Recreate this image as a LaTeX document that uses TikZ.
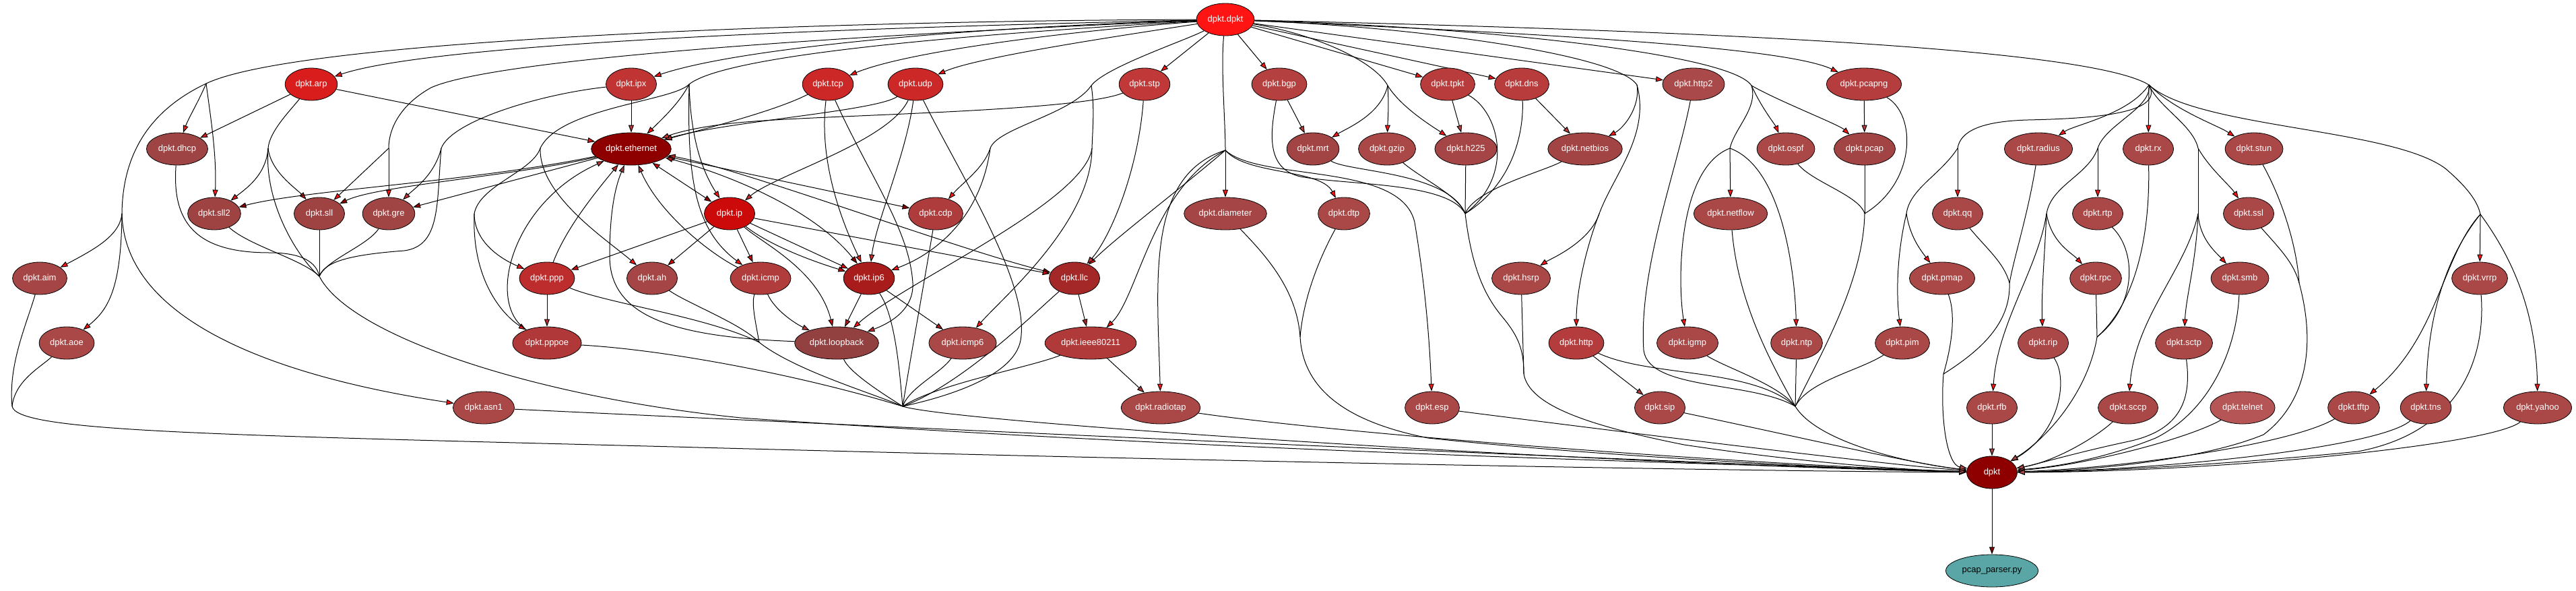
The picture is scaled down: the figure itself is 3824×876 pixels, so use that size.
\documentclass[tikz,border=0pt]{standalone}
\usepackage{fontspec}
\setmainfont{Liberation Sans}
\usetikzlibrary{shapes.geometric,arrows.meta}
\pgfdeclarelayer{bg}
\pgfsetlayers{bg,main}
\definecolor{cDD}{HTML}{FF1414}
\definecolor{cArp}{HTML}{D91C1C}
\definecolor{cIpx}{HTML}{C03434}
\definecolor{cTcp}{HTML}{CC2828}
\definecolor{cStp}{HTML}{C03838}
\definecolor{cBgp}{HTML}{B54040}
\definecolor{cTpkt}{HTML}{B83C3C}
\definecolor{cHttpb}{HTML}{AA4949}
\definecolor{cPcapng}{HTML}{B53D3D}
\definecolor{cDef}{HTML}{AA4848}
\definecolor{cDhcp}{HTML}{9E4444}
\definecolor{cEth}{HTML}{8E0000}
\definecolor{cMrt}{HTML}{A34444}
\definecolor{cSll}{HTML}{9E4242}
\definecolor{cGre}{HTML}{A04444}
\definecolor{cIp}{HTML}{CC0A0A}
\definecolor{cCdp}{HTML}{AE3C3C}
\definecolor{cPpp}{HTML}{BD2D2D}
\definecolor{cAh}{HTML}{A54545}
\definecolor{cIcmp}{HTML}{B03C3C}
\definecolor{cIpsix}{HTML}{A81C1C}
\definecolor{cLlc}{HTML}{A42828}
\definecolor{cPppoe}{HTML}{B03838}
\definecolor{cLoop}{HTML}{934040}
\definecolor{cIeee}{HTML}{B03A3A}
\definecolor{cHttp}{HTML}{B43C3C}
\definecolor{cTelnet}{HTML}{B55555}
\definecolor{cPP}{HTML}{5AA6A6}
\tikzset{
  nd/.style={ellipse, draw=black, line width=0.8pt, fill=#1, text=white, minimum width=75pt, minimum height=48pt, inner xsep=4pt, inner ysep=2pt, font=\fontsize{13}{15}\selectfont},
  ed/.style={draw=black, line width=1pt},
  ar/.style={arrows={-Triangle[length=11pt,width=8pt,fill=#1]}},
  bi/.style 2 args={arrows={Triangle[length=11pt,width=8pt,fill=#1]-Triangle[length=11pt,width=8pt,fill=#2]}},
}
\begin{document}
\begin{tikzpicture}[x=1pt,y=-1pt]
\useasboundingbox (0,0) rectangle (3824,876);
% ---------------- nodes
\node[nd=cDD] (DD) at (1819,29) {dpkt.dpkt};
\node[nd=cArp] (arp) at (462,125) {dpkt.arp};
\node[nd=cIpx] (ipx) at (937,125) {dpkt.ipx};
\node[nd=cTcp] (tcp) at (1229,125) {dpkt.tcp};
\node[nd=cTcp] (udp) at (1359,125) {dpkt.udp};
\node[nd=cStp] (stp) at (1699,125) {dpkt.stp};
\node[nd=cBgp] (bgp) at (1899,125) {dpkt.bgp};
\node[nd=cTpkt] (tpkt) at (2149,125) {dpkt.tpkt};
\node[nd=cTpkt] (dns) at (2259,125) {dpkt.dns};
\node[nd=cHttpb] (httpb) at (2514,125) {dpkt.http2};
\node[nd=cPcapng] (pcapng) at (2767,125) {dpkt.pcapng};
\node[nd=cDhcp] (dhcp) at (263,221) {dpkt.dhcp};
\node[nd=cEth] (eth) at (937,221) {dpkt.ethernet};
\node[nd=cMrt] (mrt) at (1949,221) {dpkt.mrt};
\node[nd=cDef] (gzip) at (2059,221) {dpkt.gzip};
\node[nd=cAh] (h225) at (2176,221) {dpkt.h225};
\node[nd=cMrt] (netbios) at (2353,221) {dpkt.netbios};
\node[nd=cDef] (ospf) at (2651,221) {dpkt.ospf};
\node[nd=cMrt] (pcap) at (2768,221) {dpkt.pcap};
\node[nd=cDef] (radius) at (3026,221) {dpkt.radius};
\node[nd=cDef] (rx) at (3189,221) {dpkt.rx};
\node[nd=cDef] (stun) at (3346,221) {dpkt.stun};
\node[nd=cSll] (sll2) at (318,317) {dpkt.sll2};
\node[nd=cSll] (sll) at (474,317) {dpkt.sll};
\node[nd=cGre] (gre) at (577,317) {dpkt.gre};
\node[nd=cIp] (ip) at (1083,317) {dpkt.ip};
\node[nd=cCdp] (cdp) at (1389,317) {dpkt.cdp};
\node[nd=cAh] (diam) at (1819,317) {dpkt.diameter};
\node[nd=cDef] (dtp) at (1995,317) {dpkt.dtp};
\node[nd=cDef] (netflow) at (2569,317) {dpkt.netflow};
\node[nd=cDef] (qq) at (2906,317) {dpkt.qq};
\node[nd=cDef] (rtp) at (3114,317) {dpkt.rtp};
\node[nd=cDef] (ssl) at (3338,317) {dpkt.ssl};
\node[nd=cAh] (aim) at (59,413) {dpkt.aim};
\node[nd=cPpp] (ppp) at (812,413) {dpkt.ppp};
\node[nd=cAh] (ah) at (968,413) {dpkt.ah};
\node[nd=cIcmp] (icmp) at (1129,413) {dpkt.icmp};
\node[nd=cIpsix] (ip6) at (1290,413) {dpkt.ip6};
\node[nd=cLlc] (llc) at (1595,413) {dpkt.llc};
\node[nd=cDef] (hsrp) at (2258,413) {dpkt.hsrp};
\node[nd=cDef] (pmap) at (2883,413) {dpkt.pmap};
\node[nd=cDef] (rpc) at (3111,413) {dpkt.rpc};
\node[nd=cDef] (smb) at (3325,413) {dpkt.smb};
\node[nd=cDef] (vrrp) at (3681,413) {dpkt.vrrp};
\node[nd=cDef] (aoe) at (99,509) {dpkt.aoe};
\node[nd=cPppoe] (pppoe) at (812,509) {dpkt.pppoe};
\node[nd=cLoop] (loop) at (1242,509) {dpkt.loopback};
\node[nd=cDef] (icmp6) at (1429,509) {dpkt.icmp6};
\node[nd=cIeee] (ieee) at (1619,509) {dpkt.ieee80211};
\node[nd=cHttp] (http) at (2340,509) {dpkt.http};
\node[nd=cDef] (igmp) at (2505,509) {dpkt.igmp};
\node[nd=cDef] (ntp) at (2667,509) {dpkt.ntp};
\node[nd=cDef] (pim) at (2824,509) {dpkt.pim};
\node[nd=cDef] (rip) at (3033,509) {dpkt.rip};
\node[nd=cDef] (sctp) at (3242,509) {dpkt.sctp};
\node[nd=cDef] (asn1) at (718,605) {dpkt.asn1};
\node[nd=cDef] (radiotap) at (1723,605) {dpkt.radiotap};
\node[nd=cDef] (esp) at (2126,605) {dpkt.esp};
\node[nd=cDef] (sip) at (2464,605) {dpkt.sip};
\node[nd=cDef] (rfb) at (2957,605) {dpkt.rfb};
\node[nd=cDef] (sccp) at (3159,605) {dpkt.sccp};
\node[nd=cTelnet] (telnet) at (3329,605) {dpkt.telnet};
\node[nd=cDef] (tftp) at (3494,605) {dpkt.tftp};
\node[nd=cDef] (tns) at (3601,605) {dpkt.tns};
\node[nd=cDef] (yahoo) at (3767,605) {dpkt.yahoo};
\node[nd=cEth] (dk) at (2957,701) {dpkt};
\node[nd=cPP, text=black] (pp) at (2957,847) {pcap\_parser.py};
% ---------------- junctions
\coordinate (J1) at (306,124);
\coordinate (J2) at (181,317);
\coordinate (J3) at (398,220);
\coordinate (J4) at (474,410);
\coordinate (J5) at (577,220);
\coordinate (J6) at (655,220);
\coordinate (J7) at (18,603);
\coordinate (J8) at (704,317);
\coordinate (J9) at (1127,508);
\coordinate (J10) at (1340,603);
\coordinate (J11) at (1620,127);
\coordinate (J12) at (1819,223);
\coordinate (J13) at (2060,127);
\coordinate (J14) at (2430,126);
\coordinate (J15) at (2600,127);
\coordinate (J16) at (3190,126);
\coordinate (J17) at (3682,318);
\coordinate (J19) at (2665,603);
\coordinate (J20) at (1023,125);
\coordinate (J21) at (802,220);
\coordinate (J22) at (1470,220);
\coordinate (J23) at (1621,220);
\coordinate (J24) at (2374,317);
\coordinate (J25) at (2568,220);
\coordinate (J26) at (2906,220);
\coordinate (J27) at (2830,317);
\coordinate (J28) at (3114,220);
\coordinate (J29) at (3038,317);
\coordinate (J30) at (3263,220);
\coordinate (J31) at (3263,317);
\coordinate (J33) at (1930,500);
\coordinate (J34) at (2175,317);
\coordinate (J35) at (2768,317);
\coordinate (J36) at (2983,420);
\coordinate (J37) at (3113,500);
\coordinate (J38) at (3413,420);
\coordinate (J39) at (2262,555);
\coordinate (J40) at (2885,555);
\begin{pgfonlayer}{bg}
% ---------------- from dpkt.dpkt, left side
\draw[ed] (DD) .. controls (1300,30) and (450,55) .. (J1);
\draw[ed,ar=cDD] (J1) .. controls (295,150) and (280,175) .. (dhcp);
\draw[ed,ar=cDD] (J1) .. controls (312,170) and (322,230) .. (sll2);
\draw[ed] (J1) .. controls (230,160) and (182,220) .. (J2);
\draw[ed,ar=cDD] (J2) .. controls (178,350) and (140,370) .. (aim);
\draw[ed,ar=cDD] (J2) .. controls (180,430) and (160,460) .. (aoe);
\draw[ed,ar=cDD] (J2) .. controls (185,490) and (450,565) .. (asn1);
\draw[ed,ar=cDD] (DD) .. controls (1300,40) and (650,62) .. (arp);
\draw[ed] (DD) .. controls (1300,50) and (740,85) .. (640,130) .. controls (595,155) and (577,190) .. (J5);
\draw[ed,ar=cDD] (J5) -- (gre);
\draw[ed,ar=cDD] (J5) -- (sll);
\draw[ed,ar=cDD] (DD) .. controls (1450,40) and (1100,70) .. (ipx);
\draw[ed] (DD) .. controls (1450,50) and (1080,80) .. (J20);
\draw[ed,ar=cDD] (J20) .. controls (1010,150) and (990,170) .. (eth);
\draw[ed,ar=cDD] (J20) .. controls (1025,200) and (1040,250) .. (ip);
\draw[ed,ar=cDD] (J20) .. controls (1020,260) and (1030,340) .. (icmp);
\draw[ed] (J20) .. controls (1000,150) and (830,160) .. (J21);
\draw[ed,ar=cDD] (J21) .. controls (800,290) and (900,355) .. (ah);
\draw[ed] (J21) .. controls (790,255) and (712,275) .. (J8);
\draw[ed,ar=cDD] (J8) .. controls (704,360) and (745,385) .. (ppp);
\draw[ed,ar=cDD] (J8) .. controls (700,420) and (750,470) .. (pppoe);
\draw[ed,ar=cDD] (DD) .. controls (1600,45) and (1350,75) .. (tcp);
\draw[ed,ar=cDD] (DD) .. controls (1650,55) and (1450,85) .. (udp);
\draw[ed] (DD) .. controls (1760,60) and (1640,100) .. (J11);
\draw[ed] (J11) .. controls (1590,170) and (1480,190) .. (J22);
\draw[ed,ar=cDD] (J22) .. controls (1460,250) and (1430,270) .. (cdp);
\draw[ed,ar=cDD] (J22) .. controls (1455,330) and (1380,380) .. (ip6);
\draw[ed] (J11) .. controls (1625,160) and (1622,190) .. (J23);
\draw[ed,ar=cDD] (J23) .. controls (1610,300) and (1340,420) .. (loop);
\draw[ed,ar=cDD] (J23) .. controls (1620,330) and (1490,440) .. (icmp6);
\draw[ed,ar=cDD] (DD) -- (stp);
\draw[ed,ar=cDD] (DD) -- (bgp);
\draw[ed] (DD) .. controls (1812,100) and (1819,180) .. (J12);
\draw[ed,ar=cDD] (J12) -- (diam);
\draw[ed,ar=cDD] (J12) .. controls (1740,290) and (1660,350) .. (llc);
\draw[ed,ar=cDD] (J12) .. controls (1710,280) and (1690,440) .. (ieee);
\draw[ed,ar=cDD] (J12) .. controls (1700,260) and (1718,420) .. (radiotap);
\draw[ed,ar=cDD] (J12) .. controls (1850,260) and (1960,250) .. (dtp);
\draw[ed,ar=cDD] (J12) .. controls (1870,270) and (2080,240) .. (2100,330) .. controls (2115,420) and (2122,500) .. (esp);
% ---------------- from dpkt.dpkt, right side
\draw[ed] (DD) .. controls (1950,50) and (2040,90) .. (J13);
\draw[ed,ar=cDD] (J13) .. controls (2050,170) and (2000,190) .. (mrt);
\draw[ed,ar=cDD] (J13) .. controls (2062,160) and (2060,180) .. (gzip);
\draw[ed,ar=cDD] (J13) .. controls (2080,160) and (2130,190) .. (h225);
\draw[ed,ar=cDD] (DD) -- (tpkt);
\draw[ed,ar=cDD] (DD) -- (dns);
\draw[ed] (DD) .. controls (2100,40) and (2400,80) .. (J14);
\draw[ed,ar=cDD] (J14) .. controls (2435,160) and (2410,190) .. (netbios);
\draw[ed] (J14) .. controls (2450,200) and (2395,260) .. (J24);
\draw[ed,ar=cDD] (J24) .. controls (2360,360) and (2300,385) .. (hsrp);
\draw[ed,ar=cDD] (J24) .. controls (2350,380) and (2340,440) .. (http);
\draw[ed,ar=cDD] (DD) -- (httpb);
\draw[ed] (DD) .. controls (2200,40) and (2570,80) .. (J15);
\draw[ed,ar=cDD] (J15) .. controls (2615,160) and (2635,185) .. (ospf);
\draw[ed,ar=cDD] (J15) .. controls (2640,150) and (2730,185) .. (pcap);
\draw[ed] (J15) .. controls (2610,160) and (2575,190) .. (J25);
\draw[ed,ar=cDD] (J25) -- (netflow);
\draw[ed,ar=cDD] (J25) .. controls (2490,250) and (2490,420) .. (igmp);
\draw[ed,ar=cDD] (J25) .. controls (2650,250) and (2665,420) .. (ntp);
\draw[ed,ar=cDD] (DD) .. controls (2300,50) and (2650,70) .. (pcapng);
\draw[ed] (DD) .. controls (2500,45) and (3100,70) .. (J16);
\draw[ed,ar=cDD] (J16) .. controls (3160,170) and (3080,185) .. (radius);
\draw[ed,ar=cDD] (J16) -- (rx);
\draw[ed,ar=cDD] (J16) .. controls (3230,165) and (3290,185) .. (stun);
\draw[ed] (J16) .. controls (3215,170) and (3100,176) .. (3010,178) .. controls (2940,180) and (2910,195) .. (J26);
\draw[ed,ar=cDD] (J26) -- (qq);
\draw[ed] (J26) .. controls (2880,260) and (2835,280) .. (J27);
\draw[ed,ar=cDD] (J27) .. controls (2835,350) and (2850,370) .. (pmap);
\draw[ed,ar=cDD] (J27) .. controls (2815,380) and (2815,440) .. (pim);
\draw[ed] (J16) .. controls (3195,160) and (3125,185) .. (J28);
\draw[ed,ar=cDD] (J28) -- (rtp);
\draw[ed] (J28) .. controls (3100,260) and (3045,275) .. (J29);
\draw[ed,ar=cDD] (J29) .. controls (3045,360) and (3075,375) .. (rpc);
\draw[ed,ar=cDD] (J29) .. controls (3035,380) and (3030,440) .. (rip);
\draw[ed,ar=cDD] (J29) .. controls (3025,400) and (2965,480) .. (rfb);
\draw[ed] (J16) .. controls (3205,160) and (3255,185) .. (J30);
\draw[ed,ar=cDD] (J30) .. controls (3280,250) and (3310,275) .. (ssl);
\draw[ed] (J30) -- (J31);
\draw[ed,ar=cDD] (J31) .. controls (3265,355) and (3290,375) .. (smb);
\draw[ed,ar=cDD] (J31) .. controls (3260,390) and (3245,440) .. (sctp);
\draw[ed,ar=cDD] (J31) .. controls (3245,400) and (3170,470) .. (sccp);
\draw[ed] (J16) .. controls (3260,190) and (3550,190) .. (3630,250) .. controls (3665,280) and (3678,300) .. (J17);
\draw[ed,ar=cDD] (J17) -- (vrrp);
\draw[ed,ar=cDD] (J17) .. controls (3625,380) and (3620,500) .. (tftp);
\draw[ed,ar=cDD] (J17) .. controls (3640,370) and (3605,450) .. (tns);
\draw[ed,ar=cDD] (J17) .. controls (3720,370) and (3765,450) .. (yahoo);
% ---------------- module to module
\draw[ed,ar=cArp] (arp) -- (eth);
\draw[ed,ar=cArp] (arp) -- (dhcp);
\draw[ed] (arp) .. controls (430,165) and (400,195) .. (J3);
\draw[ed,ar=cArp] (J3) .. controls (395,260) and (365,280) .. (sll2);
\draw[ed,ar=cArp] (J3) .. controls (402,255) and (440,280) .. (sll);
\draw[ed] (J3) .. controls (392,300) and (440,380) .. (J4);
\draw[ed,ar=cIpx] (ipx) -- (eth);
\draw[ed] (ipx) .. controls (800,140) and (670,180) .. (J6);
\draw[ed,ar=cIpx] (J6) .. controls (645,260) and (615,280) .. (gre);
\draw[ed] (J6) .. controls (648,300) and (655,365) .. (600,372) .. controls (520,378) and (482,388) .. (J4);
\draw[ed,ar=cEth] (eth) .. controls (700,270) and (450,282) .. (sll2);
\draw[ed,ar=cEth] (eth) .. controls (760,262) and (560,275) .. (sll);
\draw[ed,ar=cEth] (eth) -- (gre);
\draw[ed,bi={cIp}{cEth}] (eth) -- (ip);
\draw[ed,bi={cCdp}{cEth}] (eth) -- (cdp);
\draw[ed,bi={cIpsix}{cEth}] (eth) .. controls (1050,250) and (1200,300) .. (ip6);
\draw[ed,bi={cLlc}{cEth}] (eth) .. controls (1100,250) and (1420,370) .. (llc);
\draw[ed,ar=cTcp] (tcp) .. controls (1150,165) and (1050,190) .. (eth);
\draw[ed,ar=cTcp] (udp) .. controls (1300,165) and (1080,180) .. (eth);
\draw[ed,ar=cStp] (stp) .. controls (1600,165) and (1250,170) .. (1120,180) .. controls (1050,185) and (1010,195) .. (eth);
\draw[ed,ar=cTcp] (udp) .. controls (1320,210) and (1150,260) .. (ip);
\draw[ed,ar=cTcp] (tcp) .. controls (1215,240) and (1250,330) .. (ip6);
\draw[ed,ar=cTcp] (udp) .. controls (1345,230) and (1300,330) .. (ip6);
\draw[ed,ar=cTcp] (tcp) .. controls (1290,260) and (1350,340) .. (1355,420) .. controls (1357,460) and (1320,480) .. (loop);
\draw[ed,ar=cStp] (stp) .. controls (1690,250) and (1650,350) .. (llc);
\draw[ed,ar=cIp] (ip) -- (ppp);
\draw[ed,ar=cIp] (ip) -- (ah);
\draw[ed,ar=cIp] (ip) -- (icmp);
\draw[ed,ar=cIp] (ip) -- (ip6);
\draw[ed,ar=cIp] (ip) .. controls (1150,370) and (1230,395) .. (ip6);
\draw[ed,ar=cIp] (ip) -- (llc);
\draw[ed,ar=cIp] (ip) .. controls (1130,360) and (1215,400) .. (loop);
\draw[ed,ar=cIpsix] (ip6) -- (loop);
\draw[ed,ar=cIpsix] (ip6) -- (icmp6);
\draw[ed,ar=cIcmp] (icmp) .. controls (1150,460) and (1180,480) .. (loop);
\draw[ed,ar=cPpp] (ppp) -- (pppoe);
\draw[ed,ar=cPpp] (ppp) .. controls (840,340) and (880,290) .. (eth);
\draw[ed,ar=cPppoe] (pppoe) .. controls (720,450) and (760,300) .. (eth);
\draw[ed,ar=cIcmp] (icmp) .. controls (1060,380) and (980,320) .. (eth);
\draw[ed,ar=cLoop] (loop) .. controls (1000,500) and (905,470) .. (905,380) .. controls (905,320) and (912,280) .. (eth);
\draw[ed,ar=cLlc] (llc) -- (ieee);
\draw[ed,ar=cIeee] (ieee) -- (radiotap);
\draw[ed,ar=cBgp] (bgp) -- (mrt);
\draw[ed,ar=cTpkt] (tpkt) -- (h225);
\draw[ed,ar=cTpkt] (dns) -- (netbios);
\draw[ed,ar=cPcapng] (pcapng) -- (pcap);
\draw[ed,ar=cHttp] (http) -- (sip);
% ---------------- into dpkt, left part
\draw[ed] (dhcp) .. controls (255,330) and (290,375) .. (400,375) .. controls (450,375) and (470,390) .. (J4);
\draw[ed] (sll2) .. controls (370,365) and (450,385) .. (J4);
\draw[ed] (sll) -- (J4);
\draw[ed] (gre) .. controls (545,365) and (485,385) .. (J4);
\draw[ed,ar=cDef] (J4) .. controls (520,500) and (800,590) .. (1100,620) .. controls (1800,670) and (2600,690) .. (dk);
\draw[ed] (aim) .. controls (40,480) and (12,540) .. (J7);
\draw[ed] (aoe) .. controls (60,545) and (22,565) .. (J7);
\draw[ed,ar=cDef] (J7) .. controls (25,640) and (300,645) .. (1000,663) .. controls (2000,690) and (2700,700) .. (dk);
\draw[ed,ar=cDef] (asn1) .. controls (1200,628) and (2500,688) .. (dk);
\draw[ed] (pppoe) .. controls (1000,520) and (1200,560) .. (J10);
\draw[ed] (ppp) .. controls (900,450) and (1050,470) .. (J9);
\draw[ed] (ah) .. controls (1020,450) and (1100,480) .. (J9);
\draw[ed] (icmp) .. controls (1115,450) and (1122,480) .. (J9);
\draw[ed] (J9) .. controls (1180,550) and (1300,585) .. (J10);
\draw[ed] (loop) .. controls (1262,555) and (1320,590) .. (J10);
\draw[ed] (icmp6) .. controls (1395,555) and (1350,575) .. (J10);
\draw[ed] (ieee) .. controls (1530,545) and (1390,570) .. (J10);
\draw[ed] (ip6) .. controls (1330,470) and (1336,560) .. (J10);
\draw[ed] (cdp) .. controls (1370,430) and (1350,540) .. (J10);
\draw[ed] (llc) .. controls (1540,460) and (1430,570) .. (J10);
\draw[ed] (udp) .. controls (1420,250) and (1530,420) .. (1515,505) .. controls (1505,560) and (1400,590) .. (J10);
\draw[ed,ar=cDef] (J10) .. controls (1420,628) and (2400,690) .. (dk);
\draw[ed,ar=cDef] (radiotap) .. controls (2000,645) and (2600,690) .. (dk);
\draw[ed] (diam) .. controls (1880,380) and (1925,430) .. (J33);
\draw[ed] (dtp) .. controls (1960,380) and (1935,440) .. (J33);
\draw[ed,ar=cDef] (J33) .. controls (1935,590) and (2020,630) .. (2120,650) .. controls (2400,680) and (2800,698) .. (dk);
\draw[ed,ar=cDef] (esp) .. controls (2400,640) and (2800,690) .. (dk);
\draw[ed] (mrt) .. controls (2000,255) and (2150,255) .. (J34);
\draw[ed] (gzip) .. controls (2110,265) and (2165,290) .. (J34);
\draw[ed] (h225) -- (J34);
\draw[ed] (netbios) .. controls (2290,255) and (2190,280) .. (J34);
\draw[ed] (dns) .. controls (2262,190) and (2250,270) .. (J34);
\draw[ed] (tpkt) .. controls (2225,165) and (2250,260) .. (J34);
\draw[ed] (bgp) .. controls (1885,200) and (1880,250) .. (1930,262) .. controls (2000,275) and (2150,270) .. (J34);
\draw[ed] (J34) .. controls (2185,400) and (2205,440) .. (2230,470) .. controls (2255,500) and (2262,520) .. (J39);
\draw[ed] (hsrp) -- (J39);
\draw[ed,ar=cDef] (J39) .. controls (2270,600) and (2350,630) .. (2500,660) .. controls (2700,690) and (2850,698) .. (dk);
\draw[ed,ar=cDef] (sip) .. controls (2700,655) and (2850,690) .. (dk);
\draw[ed] (http) .. controls (2450,560) and (2600,545) .. (J19);
\draw[ed] (igmp) .. controls (2560,545) and (2640,570) .. (J19);
\draw[ed] (ntp) -- (J19);
\draw[ed] (pim) .. controls (2760,550) and (2685,565) .. (J19);
\draw[ed] (netflow) .. controls (2580,450) and (2630,540) .. (J19);
\draw[ed] (httpb) .. controls (2490,250) and (2432,400) .. (2440,520) .. controls (2448,580) and (2600,565) .. (J19);
\draw[ed] (ospf) .. controls (2690,270) and (2760,290) .. (J35);
\draw[ed] (pcap) -- (J35);
\draw[ed] (pcapng) .. controls (2845,170) and (2845,270) .. (J35);
\draw[ed] (J35) .. controls (2766,420) and (2700,530) .. (J19);
\draw[ed,ar=cDef] (J19) .. controls (2700,660) and (2850,690) .. (dk);
% ---------------- into dpkt, right part
\draw[ed] (radius) .. controls (3010,320) and (2990,380) .. (J36);
\draw[ed] (qq) .. controls (2950,370) and (2975,390) .. (J36);
\draw[ed] (J36) .. controls (2985,480) and (2940,520) .. (J40);
\draw[ed] (pmap) .. controls (2905,470) and (2895,520) .. (J40);
\draw[ed,ar=cDef] (J40) .. controls (2880,620) and (2890,690) .. (dk);
\draw[ed,ar=cDef] (rfb) -- (dk);
\draw[ed,ar=cDef] (rip) .. controls (3070,560) and (3060,640) .. (dk);
\draw[ed] (rx) .. controls (3192,350) and (3170,450) .. (J37);
\draw[ed] (rtp) .. controls (3170,370) and (3175,450) .. (J37);
\draw[ed] (rpc) -- (J37);
\draw[ed,ar=cDef] (J37) .. controls (3100,580) and (3040,650) .. (dk);
\draw[ed,ar=cDef] (sctp) .. controls (3255,600) and (3230,640) .. (3160,655) .. controls (3080,672) and (3020,690) .. (dk);
\draw[ed,ar=cDef] (smb) .. controls (3320,520) and (3280,610) .. (3200,650) .. controls (3100,690) and (3020,695) .. (dk);
\draw[ed,ar=cDef] (sccp) .. controls (3110,650) and (3050,685) .. (dk);
\draw[ed,ar=cTelnet] (telnet) .. controls (3250,650) and (3100,690) .. (dk);
\draw[ed] (stun) .. controls (3390,300) and (3410,370) .. (J38);
\draw[ed] (ssl) .. controls (3385,370) and (3405,390) .. (J38);
\draw[ed,ar=cDef] (J38) .. controls (3440,520) and (3420,600) .. (3360,645) .. controls (3250,690) and (3050,700) .. (dk);
\draw[ed,ar=cDef] (tftp) .. controls (3400,660) and (3150,695) .. (dk);
\draw[ed,ar=cDef] (tns) .. controls (3530,665) and (3200,698) .. (dk);
\draw[ed,ar=cDef] (yahoo) .. controls (3700,660) and (3300,700) .. (dk);
\draw[ed,ar=cDef] (vrrp) .. controls (3690,520) and (3660,640) .. (3500,670) .. controls (3300,690) and (3100,700) .. (dk);
\draw[ed,ar=cEth] (dk) -- (pp);
\end{pgfonlayer}
\end{tikzpicture}
\end{document}
